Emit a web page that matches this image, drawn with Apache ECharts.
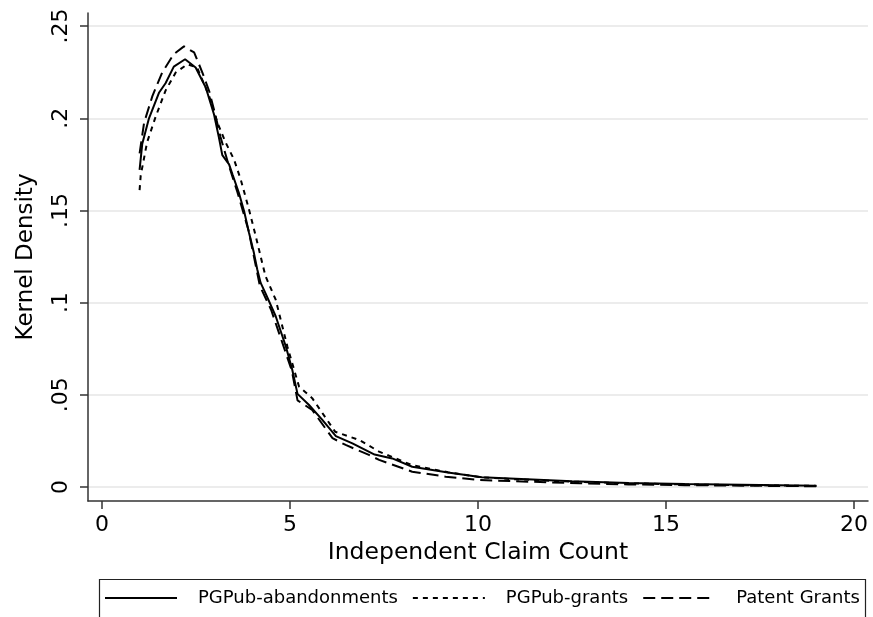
<!DOCTYPE html>
<html>
<head>
<meta charset="utf-8">
<script src="https://cdn.jsdelivr.net/npm/echarts@6/dist/echarts.min.js"></script>
<style>html,body{margin:0;padding:0;background:#fff}#c{width:873px;height:617px}</style>
</head>
<body>
<div id="c"></div>
<script>
// ---- data ----
const seriesNames = ['PGPub-abandonments', 'PGPub-grants', 'Patent Grants'];

const abandonX = [1.0, 1.07, 1.25, 1.52, 1.69, 1.91, 2.21, 2.49, 2.76, 2.98, 3.11, 3.2, 3.38, 3.47, 3.64, 3.78, 3.91, 4.04, 4.13, 4.22, 4.35, 4.62, 4.89, 5.06, 5.2, 5.5, 5.86, 6.22, 6.66, 7.25, 7.72, 8.25, 9.2, 10.1, 11, 12.5, 14, 15.5, 17, 19];
const abandonY = [0.172, 0.186, 0.200, 0.214, 0.219, 0.228, 0.232, 0.2275, 0.2167, 0.202, 0.1895, 0.180, 0.175, 0.1696, 0.1596, 0.1496, 0.1379, 0.127, 0.118, 0.1107, 0.105, 0.0926, 0.0762, 0.0636, 0.0505, 0.0446, 0.0364, 0.0276, 0.0237, 0.0176, 0.0155, 0.011, 0.0079, 0.0053, 0.0045, 0.0031, 0.0022, 0.0016, 0.0012, 0.0007];

const grantsX = [1.0, 1.03, 1.2, 1.43, 1.69, 1.96, 2.27, 2.53, 2.85, 3.07, 3.29, 3.51, 3.69, 3.91, 4.09, 4.26, 4.35, 4.62, 4.93, 5.24, 5.59, 6.2, 6.84, 7.37, 8.25, 9.2, 10.1, 11, 12.5, 14, 15.5, 17, 19];
const grantsY = [0.161, 0.169, 0.187, 0.201, 0.215, 0.2248, 0.2293, 0.2275, 0.212, 0.1976, 0.1868, 0.1777, 0.1668, 0.1505, 0.136, 0.1216, 0.1143, 0.1016, 0.0762, 0.0545, 0.0482, 0.030, 0.0255, 0.0192, 0.0118, 0.0080, 0.0052, 0.0042, 0.0029, 0.0020, 0.0014, 0.0010, 0.0006];

const patentX = [1.0, 1.12, 1.34, 1.6, 1.91, 2.18, 2.45, 2.67, 2.85, 3.0, 3.15, 3.35, 3.6, 3.9, 4.2, 4.5, 4.8, 5.05, 5.2, 5.59, 6.13, 6.48, 7.1, 7.37, 8.25, 9.14, 10.03, 11, 12.7, 14, 15.5, 17, 19];
const patentY = [0.181, 0.1976, 0.212, 0.2248, 0.2348, 0.239, 0.2357, 0.2248, 0.2148, 0.203, 0.190, 0.176, 0.160, 0.139, 0.109, 0.096, 0.078, 0.063, 0.047, 0.0418, 0.0265, 0.0228, 0.0174, 0.0147, 0.0083, 0.0056, 0.0038, 0.0031, 0.002, 0.0014, 0.001, 0.0007, 0.0004];

const xTicks = [0, 5, 10, 15, 20];
const yTicks = [0, 0.05, 0.1, 0.15, 0.2, 0.25];
const yTickLabels = ['0', '.05', '.1', '.15', '.2', '.25'];

// ---- chart ----
const zip = (xs, ys) => xs.map((x, i) => [x, ys[i]]);
const FONT = 'DejaVu Sans';
const chart = echarts.init(document.getElementById('c'), null, {renderer: 'canvas'});

const lineTypes = ['solid', [5, 5], [12, 6]];
const datasets = [zip(abandonX, abandonY), zip(grantsX, grantsY), zip(patentX, patentY)];

chart.setOption({
  animation: false,
  backgroundColor: '#fff',
  textStyle: {fontFamily: FONT, color: '#000'},
  grid: {left: 88, right: 5, top: 13, bottom: 116, containLabel: false},
  xAxis: {
    type: 'value', min: -0.372, max: 20.372,
    name: 'Independent Claim Count', nameLocation: 'middle', nameGap: 37,
    nameTextStyle: {fontSize: 23.5, fontFamily: FONT, color: '#000'},
    axisLine: {show: true, onZero: false, lineStyle: {color: '#333', width: 1.5}},
    axisTick: {show: true, customValues: xTicks, length: 8, lineStyle: {color: '#333', width: 1.5}},
    axisLabel: {customValues: xTicks, fontSize: 22, fontFamily: FONT, color: '#000', margin: 13},
    splitLine: {show: false}
  },
  yAxis: {
    type: 'value', min: -0.0076, max: 0.2571,
    name: 'Kernel Density', nameLocation: 'middle', nameGap: 50,
    nameTextStyle: {fontSize: 23, fontFamily: FONT, color: '#000'},
    axisLine: {show: true, onZero: false, lineStyle: {color: '#333', width: 1.5}},
    axisTick: {show: true, customValues: yTicks, length: 8, lineStyle: {color: '#333', width: 1.5}},
    axisLabel: {
      customValues: yTicks, fontSize: 22, fontFamily: FONT, color: '#000', rotate: 90, margin: 16,
      formatter: v => { const i = yTicks.findIndex(t => Math.abs(t - v) < 1e-9); return i >= 0 ? yTickLabels[i] : ''; }
    },
    splitLine: {show: true, lineStyle: {color: '#e6e6e6', width: 1.5}}
  },
  legend: {
    left: 99, top: 584, itemWidth: 72, itemHeight: 20, itemGap: 14,
    itemStyle: {opacity: 0},
    textStyle: {fontSize: 18, fontFamily: FONT, color: '#000', padding: [0, 0, 0, 16]},
    data: seriesNames
  },
  graphic: [{
    type: 'rect', left: 97, top: 577, shape: {width: 766, height: 60},
    style: {fill: 'none', stroke: '#222', lineWidth: 1.2}, silent: true, z: -1
  }],
  series: seriesNames.map((n, i) => ({
    name: n, type: 'line', data: datasets[i], showSymbol: false, symbol: 'none',
    lineStyle: {color: '#000', width: 2, type: lineTypes[i]},
    itemStyle: {color: '#000'},
    z: 3 - i
  }))
});
</script>
</body>
</html>
